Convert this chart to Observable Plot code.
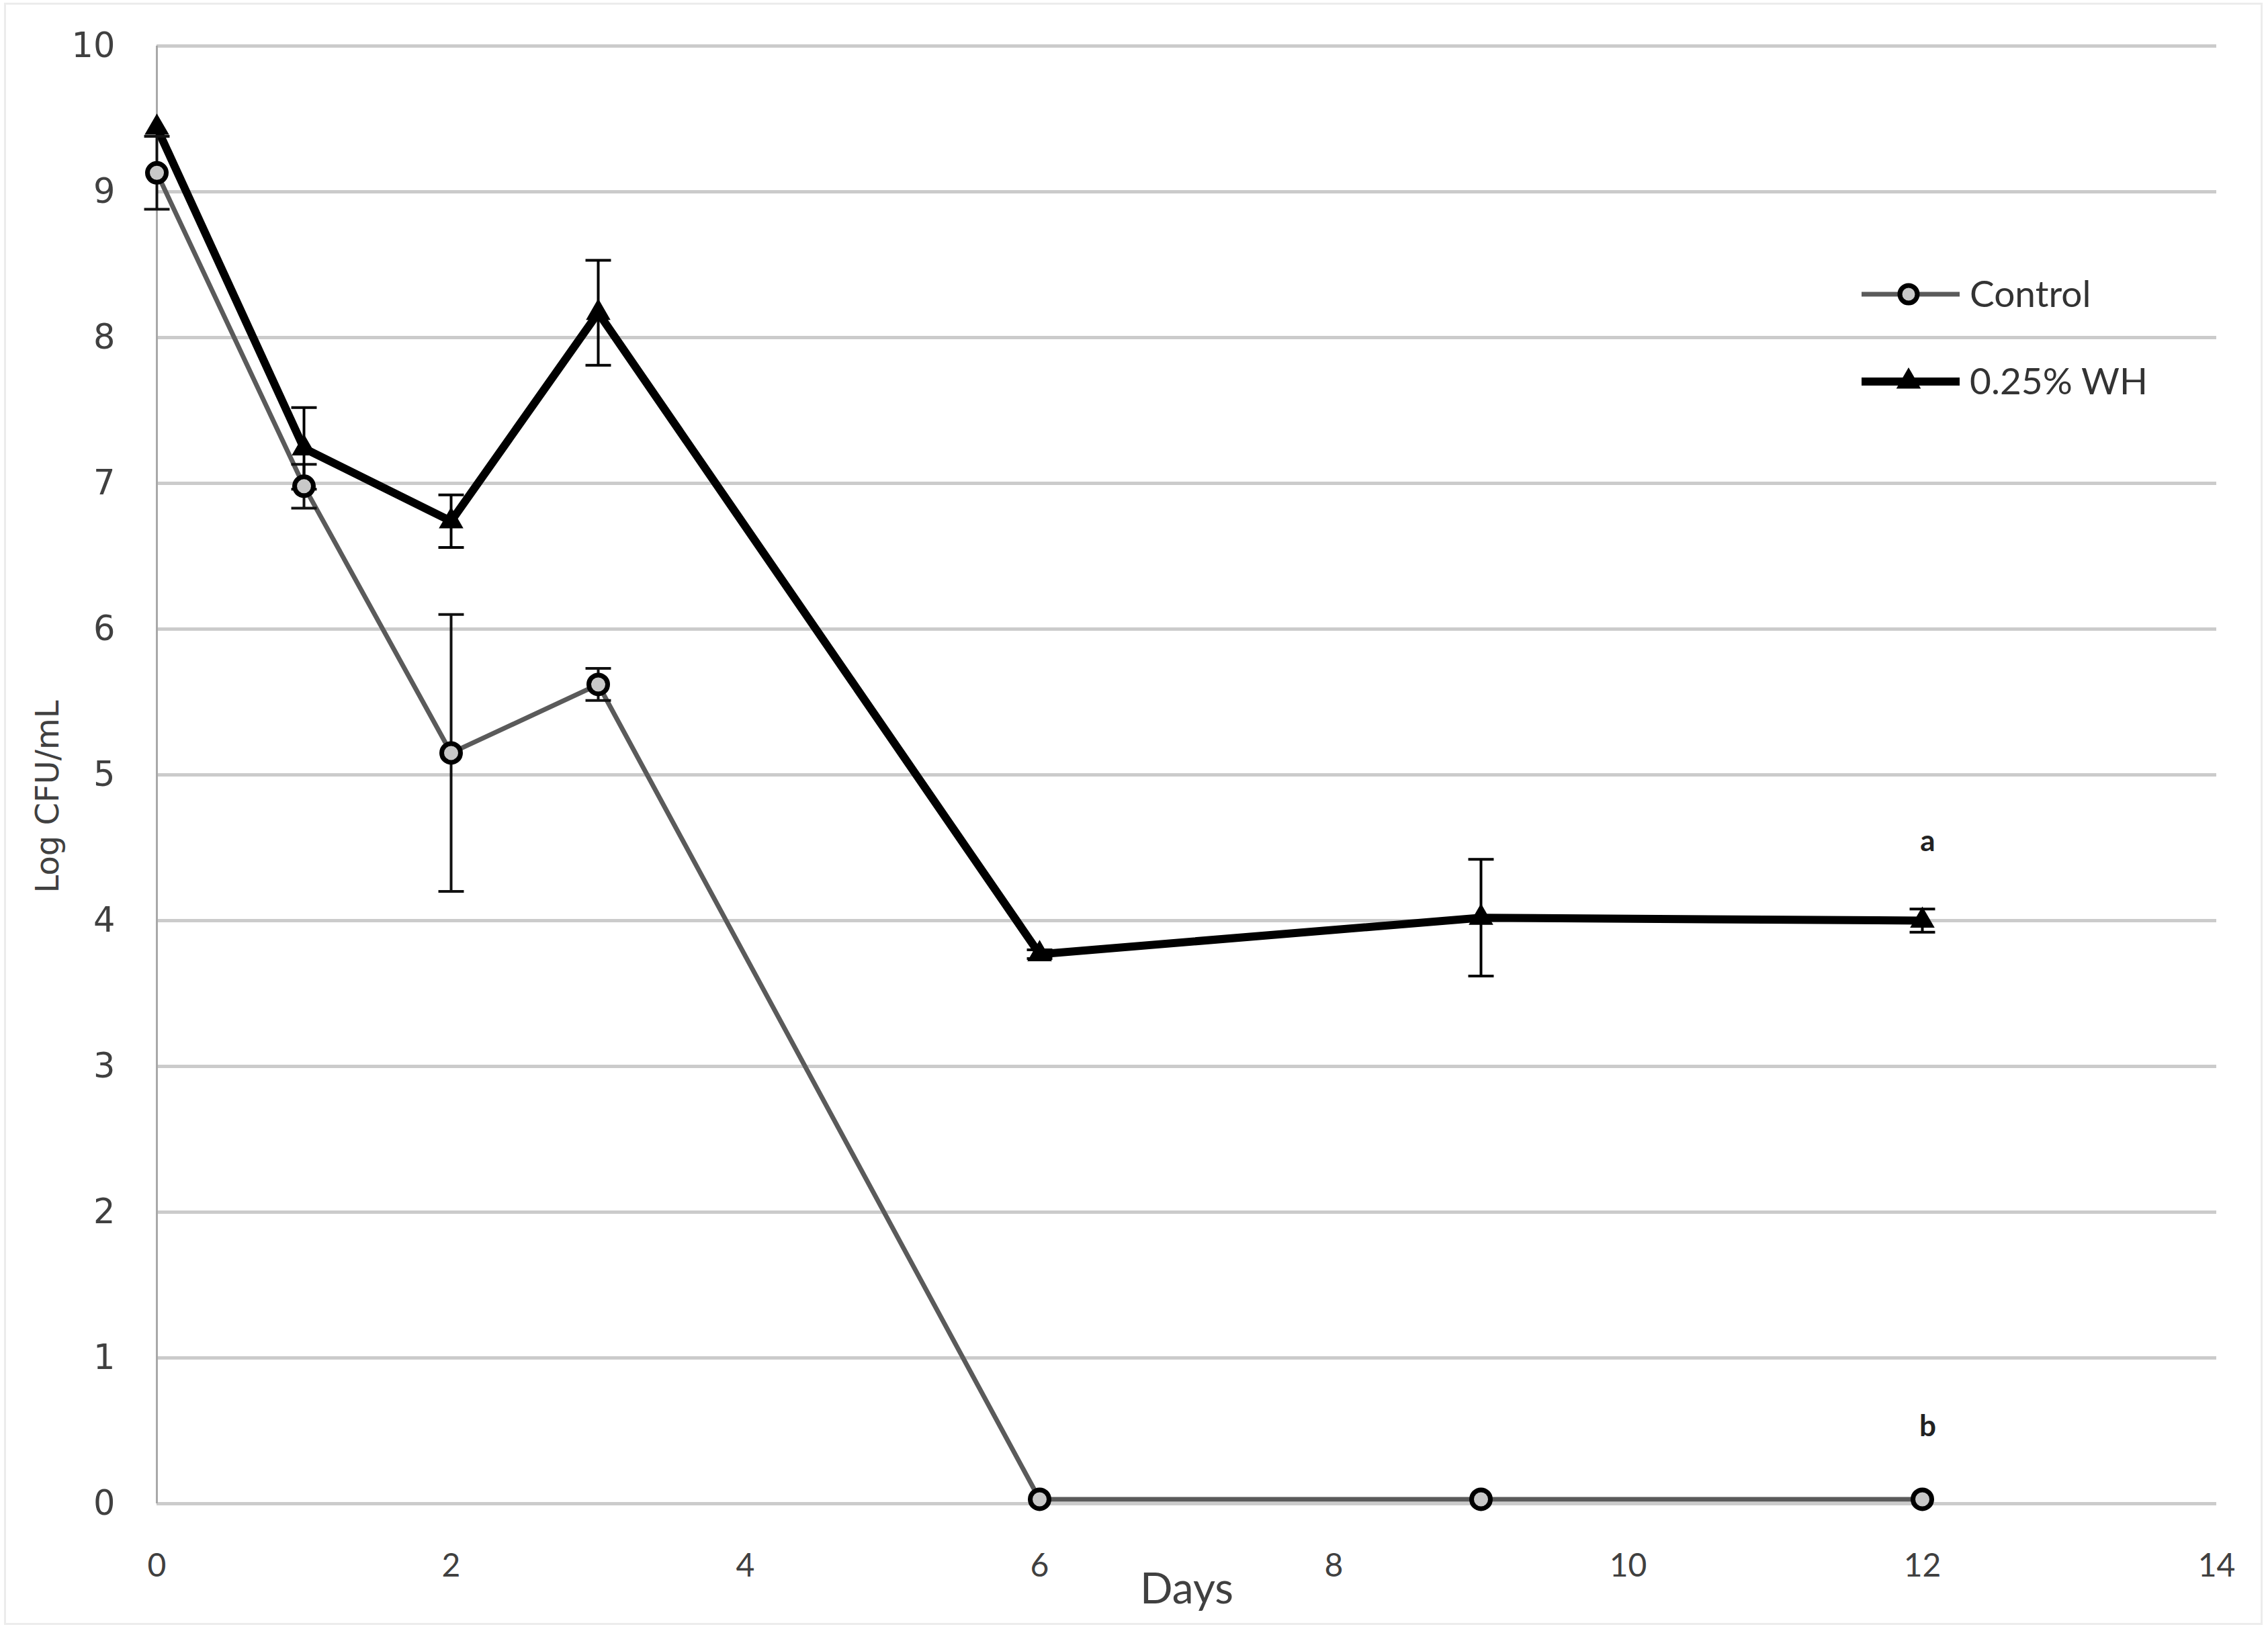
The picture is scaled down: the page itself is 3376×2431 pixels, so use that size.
<!DOCTYPE html>
<html>
<head>
<meta charset="utf-8">
<script src="https://cdn.jsdelivr.net/npm/d3@7"></script>
<script src="https://cdn.jsdelivr.net/npm/@observablehq/plot@0.6"></script>
<style>
  html, body { margin: 0; padding: 0; background: #fff; }
  #wrap { position: relative; width: 3376px; height: 2431px; overflow: hidden; }
  #border { position: absolute; left: 6px; top: 4px; right: 8px; bottom: 12px; border: 3px solid #ececec; pointer-events: none; }
  #legend { position: absolute; left: 2760px; top: 380px; }
</style>
</head>
<body>
<div id="wrap">
  <div id="chart"></div>
  <div id="border"></div>
  <svg id="legend" width="560" height="260"></svg>
</div>
<script>
// ---- data ----
const days = [0, 1, 2, 3, 6, 9, 12];
const controlMean = [9.13, 6.98, 5.15, 5.62, 0.03, 0.03, 0.03];
const controlErr  = [0.25, 0.15, 0.95, 0.11, 0, 0, 0];
const whMean = [9.44, 7.24, 6.74, 8.17, 3.77, 4.02, 4.00];
const whErr  = [0, 0.28, 0.18, 0.36, 0.03, 0.40, 0.08];
const seriesNames = ["Control", "0.25% WH"];
const xTicks = [0, 2, 4, 6, 8, 10, 12, 14];
const yTicks = [0, 1, 2, 3, 4, 5, 6, 7, 8, 9, 10];
const letterDays = [12, 12];
const letterValues = [4.54, 0.53];
const letterLabels = ["a", "b"];
const xTitle = "Days";
const yTitle = "Log CFU/mL";

const control = days.map((d, i) => ({day: d, v: controlMean[i], e: controlErr[i]}));
const wh = days.map((d, i) => ({day: d, v: whMean[i], e: whErr[i]}));
const letters = letterDays.map((d, i) => ({day: d, v: letterValues[i], label: letterLabels[i]}));
const errC = control.filter(d => d.e > 0);
const errW = wh.filter(d => d.e > 0);

// horizontal cap symbol for error bars
const cap = { draw(ctx, size) { const w = Math.sqrt(size); ctx.moveTo(-w / 2, 0); ctx.lineTo(w / 2, 0); } };

const tickFont = "'DejaVu Sans', Verdana, sans-serif";
const textFont = "Lato, 'Open Sans', sans-serif";

const chart = Plot.plot({
  width: 3376,
  height: 2431,
  marginLeft: 233,
  marginRight: 77,
  marginTop: 68,
  marginBottom: 193,
  style: { background: "white", color: "#404040", fontFamily: tickFont, overflow: "visible" },
  x: { domain: [0, 14] },
  y: { domain: [0, 10] },
  marks: [
    Plot.ruleY(yTicks, { stroke: "#cbcbcb", strokeWidth: 5 }),
    Plot.ruleX([0], { stroke: "#a8a8a8", strokeWidth: 3 }),
    Plot.axisY({ ticks: yTicks, tickSize: 0, tickPadding: 62, fontSize: 51, label: null, fontFamily: tickFont }),
    Plot.axisX({ ticks: xTicks, tickSize: 0, tickPadding: 74, fontSize: 48, label: null, fontFamily: textFont }),
    Plot.text([xTitle], { frameAnchor: "bottom", dy: 128, fontSize: 64, fontFamily: textFont, fill: "#404040", lineAnchor: "middle" }),
    Plot.text([yTitle], { frameAnchor: "left", dx: -162, dy: 176, rotate: -90, fontSize: 48, fontFamily: tickFont, fill: "#404040", lineAnchor: "middle" }),
    // lines
    Plot.line(control, { x: "day", y: "v", stroke: "#5a5a5a", strokeWidth: 7 }),
    Plot.line(wh, { x: "day", y: "v", stroke: "#000", strokeWidth: 12 }),
    // error bars
    Plot.ruleX(errC, { x: "day", y1: d => d.v - d.e, y2: d => d.v + d.e, stroke: "#111", strokeWidth: 4 }),
    Plot.dot(errC, { x: "day", y: d => d.v - d.e, symbol: cap, r: 21.4, stroke: "#111", strokeWidth: 4, fill: "none" }),
    Plot.dot(errC, { x: "day", y: d => d.v + d.e, symbol: cap, r: 21.4, stroke: "#111", strokeWidth: 4, fill: "none" }),
    Plot.ruleX(errW, { x: "day", y1: d => d.v - d.e, y2: d => d.v + d.e, stroke: "#000", strokeWidth: 4 }),
    Plot.dot(errW, { x: "day", y: d => d.v - d.e, symbol: cap, r: 21.4, stroke: "#000", strokeWidth: 4, fill: "none" }),
    Plot.dot(errW, { x: "day", y: d => d.v + d.e, symbol: cap, r: 21.4, stroke: "#000", strokeWidth: 4, fill: "none" }),
    // markers
    Plot.dot(control, { x: "day", y: "v", r: 14, fill: "#c8c8c8", stroke: "#000", strokeWidth: 7 }),
    Plot.dot(wh, { x: "day", y: "v", symbol: "triangle", r: 11, fill: "#000", stroke: "#000", strokeWidth: 4 }),
    // significance letters
    Plot.text(letters, { x: "day", y: "v", text: "label", fontSize: 44, fontWeight: "bold", fontFamily: textFont, fill: "#222", dx: 8 })
  ]
});
document.getElementById("chart").appendChild(chart);

// legend
const lg = d3.select("#legend");
const rows = [
  { name: seriesNames[0], y: 58, stroke: "#5a5a5a", w: 7, marker: "circle" },
  { name: seriesNames[1], y: 188, stroke: "#000", w: 12, marker: "triangle" }
];
for (const r of rows) {
  lg.append("line").attr("x1", 11).attr("x2", 157).attr("y1", r.y).attr("y2", r.y)
    .attr("stroke", r.stroke).attr("stroke-width", r.w);
  if (r.marker === "circle") {
    lg.append("circle").attr("cx", 81).attr("cy", r.y).attr("r", 13)
      .attr("fill", "#c8c8c8").attr("stroke", "#000").attr("stroke-width", 7);
  } else {
    lg.append("path").attr("transform", `translate(81,${r.y})`)
      .attr("d", d3.symbol(d3.symbolTriangle, Math.PI * 11 * 11)())
      .attr("fill", "#000").attr("stroke", "#000").attr("stroke-width", 4);
  }
  lg.append("text").attr("x", 172).attr("y", r.y).attr("dy", "0.35em")
    .attr("font-family", textFont).attr("font-size", 55).attr("fill", "#333").text(r.name);
}
</script>
</body>
</html>
